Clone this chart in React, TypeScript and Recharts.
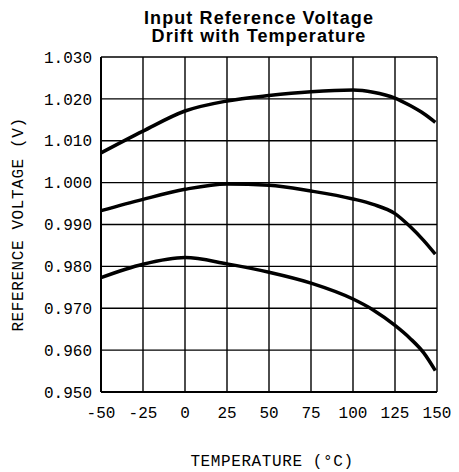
import React from "react";
import {
  LineChart,
  Line,
  XAxis,
  YAxis,
  CartesianGrid,
} from "recharts";

// temperature (°C) and reference voltage (V)
const temps = [-50, -25, 0, 25, 50, 75, 100, 112, 125, 134, 142, 149];
const upperV = [1.0071, 1.0123, 1.0171, 1.0195, 1.0208, 1.0217, 1.0221, 1.0216, 1.0202, 1.0184, 1.0165, 1.0144];
const typV = [0.9933, 0.996, 0.9984, 0.9997, 0.9994, 0.998, 0.9961, 0.9948, 0.9926, 0.9895, 0.9862, 0.9829];
const lowerV = [0.9773, 0.9805, 0.9821, 0.9806, 0.9786, 0.976, 0.9722, 0.9696, 0.9659, 0.9628, 0.9594, 0.9551];

const xTicks = [-50, -25, 0, 25, 50, 75, 100, 125, 150];
const yTicks = [0.95, 0.96, 0.97, 0.98, 0.99, 1.0, 1.01, 1.02, 1.03];

const data = temps.map((t, i) => ({
  t,
  upper: upperV[i],
  typ: typV[i],
  lower: lowerV[i],
}));

const mono = "'Liberation Mono', 'DejaVu Sans Mono', monospace";
const tickStyle = { fontSize: 16, fill: "#000", fontFamily: mono };

export default function App() {
  return (
    <div style={{ position: "relative", width: 459, height: 472, background: "#fff" }}>
      <style>{"body{margin:0}"}</style>
      <div
        style={{
          position: "absolute",
          left: 0,
          top: 9,
          width: 518,
          textAlign: "center",
          fontFamily: "'Liberation Sans', Arial, sans-serif",
          fontWeight: "bold",
          fontSize: 18,
          letterSpacing: 1.1,
          lineHeight: "18px",
          color: "#000",
        }}
      >
        Input Reference Voltage
        <br />
        Drift with Temperature
      </div>
      <LineChart
        width={459}
        height={472}
        data={data}
        margin={{ top: 57, right: 22, bottom: 0, left: 0 }}
      >
        <CartesianGrid stroke="#000" strokeWidth={1.4} />
        <XAxis
          dataKey="t"
          type="number"
          domain={[-50, 150]}
          ticks={xTicks}
          height={80}
          tickLine={false}
          tickSize={6}
          tickMargin={9}
          axisLine={{ stroke: "#000", strokeWidth: 2 }}
          tick={tickStyle}
          interval={0}
          label={{
            value: "TEMPERATURE (°C)",
            position: "insideBottom",
            offset: 6,
            dx: 3,
            style: { fontSize: 16, fill: "#000", fontFamily: mono, letterSpacing: 0.6 },
          }}
        />
        <YAxis
          type="number"
          domain={[0.95, 1.03]}
          ticks={yTicks}
          width={101}
          tickLine={false}
          tickSize={6}
          tickMargin={3}
          axisLine={{ stroke: "#000", strokeWidth: 2 }}
          tick={tickStyle}
          interval={0}
          tickFormatter={(v: number) => v.toFixed(3)}
          label={{
            value: "REFERENCE VOLTAGE (V)",
            angle: -90,
            position: "insideLeft",
            offset: 17,
            style: {
              fontSize: 16,
              fill: "#000",
              fontFamily: mono,
              letterSpacing: 0.6,
              textAnchor: "middle",
            },
          }}
        />
        <Line type="monotone" dataKey="upper" stroke="#000" strokeWidth={3.5} dot={false} isAnimationActive={false} />
        <Line type="monotone" dataKey="typ" stroke="#000" strokeWidth={3.5} dot={false} isAnimationActive={false} />
        <Line type="monotone" dataKey="lower" stroke="#000" strokeWidth={3.5} dot={false} isAnimationActive={false} />
      </LineChart>
    </div>
  );
}
